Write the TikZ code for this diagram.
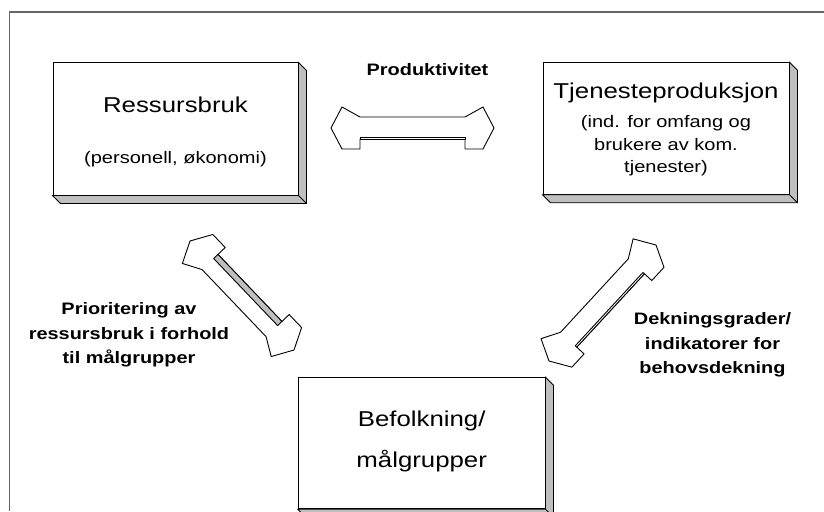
\documentclass[tikz,border=0pt]{standalone}
\usepackage{fontspec}
\setmainfont{Liberation Sans}[FakeStretch=1.2]
\usetikzlibrary{calc}
\tikzset{blockarrow/.style={settings={#1},to path={(\tikztostart)
    -- ($(\tikztostart)!\pv{tip}!(\tikztotarget)!\pv{flare}!90:(\tikztotarget)$)
    -- ($(\tikztostart)!\pv{head}!(\tikztotarget)!\pv{shaft}!90:(\tikztotarget)$)
    -- ($(\tikztotarget)!\pv{head}!(\tikztostart)!\pv{shaft}!-90:(\tikztostart)$)
    -- ($(\tikztotarget)!\pv{tip}!(\tikztostart)!\pv{flare}!-90:(\tikztostart)$)
    -- (\tikztotarget)
    -- ($(\tikztotarget)!\pv{tip}!(\tikztostart)!\pv{flare}!90:(\tikztostart)$)
    -- ($(\tikztotarget)!\pv{head}!(\tikztostart)!\pv{flare}!90:(\tikztostart)$)
    -- ($(\tikztotarget)!\pv{head}!(\tikztostart)!\pv{shaft}!90:(\tikztostart)$)
    -- ($(\tikztostart)!\pv{head}!(\tikztotarget)!\pv{shaft}!-90:(\tikztotarget)$)
    -- ($(\tikztostart)!\pv{head}!(\tikztotarget)!\pv{flare}!-90:(\tikztotarget)$)
    -- ($(\tikztostart)!\pv{tip}!(\tikztotarget)!\pv{flare}!-90:(\tikztotarget)$)
    -- cycle}},
    blockarrow/.default={},
    arrowdepth/.style={settings={#1},to path={
    ($(\tikztostart)!\pv{head}!(\tikztotarget)!\pv{shaft}!-90:(\tikztotarget)$)
    -- ($(\tikztotarget)!\pv{head}!(\tikztostart)!\pv{shaft}!90:(\tikztostart)$)
    -- ($(\tikztotarget)!\pv{head}!(\tikztostart)!{\pv{shaft}-\pv{depth}}!90:(\tikztostart)$)
    -- ($(\tikztostart)!\pv{head}!(\tikztotarget)!{\pv{shaft}-\pv{depth}}!-90:(\tikztotarget)$)
    -- cycle}},
    arrowdepth/.default={},
    settings/.code={\tikzset{barrow/.cd,#1}
        \def\pv##1{\pgfkeysvalueof{/tikz/barrow/##1}}},
    barrow/.cd,tip/.initial=11pt,head/.initial=29pt,flare/.initial=21pt,
    shaft/.initial=11pt,depth/.initial=2pt}

\begin{document}
\begin{tikzpicture}[x=1pt,y=-1pt,
    box3d/.style={draw,fill=white,line width=1pt,inner sep=0pt},
    arrowline/.style={draw=black,line width=0.9pt,line join=round},
    titletext/.style={font=\fontsize{21.5}{40.6}\selectfont,inner sep=0pt},
    subtext/.style={font=\fontsize{16.7}{22.7}\selectfont,inner sep=0pt},
    labeltext/.style={font=\bfseries\fontsize{16.6}{24.2}\selectfont,inner sep=0pt}]
\useasboundingbox (0,0) rectangle (824,511);

% frame
\draw[black!60,line width=1.5pt] (9.5,511) -- (9.5,12) -- (824,12);

% boxes
\node[box3d,minimum width=245pt,minimum height=132pt] (res) at (175.5,129) {};
\node[box3d,minimum width=246pt,minimum height=131.5pt] (tje) at (666,128.5) {};
\node[box3d,minimum width=246.7pt,minimum height=131pt] (bef) at (421.7,443.3) {};
\foreach \n in {res,tje,bef}{
  \filldraw[fill=gray!50,line width=0.8pt] (\n.north east) -- ([shift={(8,8)}]\n.north east)
    -- ([shift={(8,8)}]\n.south east) -- ([shift={(8,8)}]\n.south west)
    -- (\n.south west) -- (\n.south east) -- cycle;
  \draw[line width=0.8pt] (\n.south east) -- ([shift={(8,8)}]\n.south east);
}

% box texts (base = last line)
\node[titletext,anchor=base] (restitle) at (175.5,112.7) {Ressursbruk};
\node[subtext,anchor=base] (ressub) at (175.5,163.3) {(personell, økonomi)};
\node[titletext,anchor=base] (tjetitle) at (666,98.3) {Tjenesteproduksjon};
\node[subtext,anchor=base,align=center] (tjesub) at (666,172.7) {(ind. for omfang og\\brukere av kom.\\tjenester)};
\node[titletext,anchor=base,align=center] (beftitle) at (421.7,467.3) {Befolkning/\\målgrupper};

% arrows
\coordinate (prodL) at (331,128);
\coordinate (prodR) at (494,128);
\coordinate (prioB) at (294,350);
\coordinate (prioT) at (190,241);
\coordinate (deknB) at (549,361);
\coordinate (deknT) at (656,245);

\draw[arrowline,fill=white] (prodL) to[blockarrow] (prodR);
\draw[arrowline,fill=white] (prodL) to[arrowdepth] (prodR);
\draw[arrowline,fill=white] (prioB) to[blockarrow] (prioT);
\draw[arrowline,fill=gray!50] (prioB) to[arrowdepth={depth=6pt}] (prioT);
\draw[arrowline,fill=white] (deknB) to[blockarrow] (deknT);
\draw[arrowline,fill=white] (deknB) to[arrowdepth] (deknT);

% arrow labels
\node[labeltext,anchor=base] (prodlabel) at (427.5,75) {Produktivitet};
\node[labeltext,anchor=base,align=center] (priolabel) at (129,363.3) {Prioritering av\\ressursbruk i forhold\\til målgrupper};
\node[labeltext,anchor=base,align=center] (deknlabel) at (712.5,373.3) {Dekningsgrader/\\indikatorer for\\behovsdekning};

\end{tikzpicture}
\end{document}
